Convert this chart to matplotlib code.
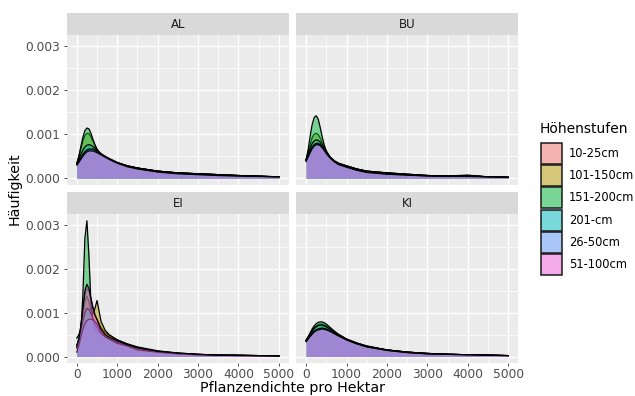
import numpy as np
import matplotlib
matplotlib.use("Agg")
import matplotlib.pyplot as plt
from matplotlib.patches import Rectangle

# ----------------------------
# Data (density values, in units of 1e-3)
# ----------------------------
x_grid = [0, 50, 100, 150, 200, 250, 300, 350, 400, 450, 500, 600, 700, 800,
          1000, 1250, 1500, 2000, 2500, 3000, 3500, 4000, 4500, 5000]

groups = ["10-25cm", "101-150cm", "151-200cm", "201-cm", "26-50cm", "51-100cm"]
colors = ["#F8766D", "#B79F00", "#00BA38", "#00BFC4", "#619CFF", "#F564E3"]
facets = ["AL", "BU", "EI", "KI"]

al_dens = [
    [0.32, 0.40, 0.48, 0.56, 0.62, 0.66, 0.68, 0.68, 0.67, 0.65, 0.62, 0.56, 0.50, 0.45, 0.36, 0.28, 0.23, 0.16, 0.12, 0.10, 0.08, 0.06, 0.045, 0.03],
    [0.33, 0.48, 0.66, 0.84, 0.97, 1.02, 1.01, 0.94, 0.84, 0.74, 0.65, 0.54, 0.47, 0.42, 0.35, 0.28, 0.23, 0.16, 0.12, 0.10, 0.08, 0.06, 0.045, 0.03],
    [0.33, 0.50, 0.72, 0.93, 1.08, 1.14, 1.12, 1.02, 0.88, 0.76, 0.66, 0.54, 0.47, 0.42, 0.35, 0.28, 0.23, 0.16, 0.12, 0.10, 0.08, 0.06, 0.045, 0.03],
    [0.33, 0.43, 0.54, 0.64, 0.71, 0.75, 0.76, 0.75, 0.72, 0.68, 0.63, 0.55, 0.48, 0.43, 0.35, 0.28, 0.23, 0.16, 0.12, 0.10, 0.08, 0.06, 0.045, 0.03],
    [0.31, 0.38, 0.46, 0.54, 0.60, 0.64, 0.66, 0.66, 0.66, 0.64, 0.61, 0.55, 0.49, 0.44, 0.35, 0.27, 0.22, 0.15, 0.11, 0.09, 0.07, 0.05, 0.04, 0.03],
    [0.30, 0.36, 0.43, 0.50, 0.56, 0.60, 0.62, 0.62, 0.62, 0.60, 0.58, 0.53, 0.48, 0.43, 0.34, 0.26, 0.21, 0.14, 0.10, 0.08, 0.06, 0.05, 0.04, 0.03],
]
bu_dens = [
    [0.40, 0.50, 0.62, 0.72, 0.78, 0.80, 0.80, 0.77, 0.72, 0.65, 0.58, 0.47, 0.39, 0.33, 0.27, 0.20, 0.15, 0.11, 0.08, 0.06, 0.05, 0.05, 0.03, 0.02],
    [0.42, 0.58, 0.76, 0.92, 1.00, 1.02, 0.99, 0.91, 0.80, 0.70, 0.61, 0.47, 0.39, 0.34, 0.28, 0.21, 0.16, 0.12, 0.09, 0.06, 0.05, 0.06, 0.03, 0.02],
    [0.42, 0.65, 0.95, 1.22, 1.38, 1.42, 1.34, 1.15, 0.93, 0.75, 0.62, 0.47, 0.39, 0.34, 0.28, 0.21, 0.16, 0.12, 0.09, 0.06, 0.05, 0.07, 0.03, 0.02],
    [0.42, 0.55, 0.68, 0.79, 0.85, 0.87, 0.86, 0.82, 0.75, 0.67, 0.59, 0.47, 0.39, 0.34, 0.28, 0.21, 0.16, 0.12, 0.09, 0.06, 0.05, 0.06, 0.03, 0.02],
    [0.40, 0.50, 0.61, 0.70, 0.76, 0.79, 0.79, 0.76, 0.71, 0.64, 0.57, 0.46, 0.38, 0.32, 0.26, 0.19, 0.14, 0.10, 0.07, 0.05, 0.04, 0.05, 0.03, 0.02],
    [0.38, 0.48, 0.58, 0.67, 0.73, 0.76, 0.76, 0.74, 0.69, 0.63, 0.56, 0.45, 0.37, 0.31, 0.25, 0.18, 0.13, 0.09, 0.07, 0.05, 0.04, 0.04, 0.03, 0.02],
]
ei_dens = [
    [0.25, 0.40, 0.68, 1.05, 1.40, 1.55, 1.50, 1.32, 1.12, 0.96, 0.86, 0.66, 0.55, 0.48, 0.38, 0.29, 0.22, 0.13, 0.08, 0.05, 0.03, 0.03, 0.02, 0.01],
    [0.20, 0.35, 0.60, 0.95, 1.25, 1.38, 1.25, 1.05, 0.98, 1.10, 1.28, 0.80, 0.60, 0.50, 0.38, 0.28, 0.20, 0.12, 0.07, 0.05, 0.03, 0.03, 0.02, 0.01],
    [0.20, 0.30, 0.55, 1.40, 2.70, 3.10, 2.30, 1.20, 0.80, 0.62, 0.58, 0.52, 0.46, 0.40, 0.33, 0.24, 0.18, 0.11, 0.07, 0.04, 0.03, 0.02, 0.01, 0.01],
    [0.42, 0.50, 0.62, 0.80, 1.00, 1.10, 1.08, 0.98, 0.86, 0.74, 0.65, 0.52, 0.45, 0.40, 0.33, 0.25, 0.19, 0.11, 0.07, 0.04, 0.03, 0.02, 0.02, 0.01],
    [0.10, 0.25, 0.45, 0.62, 0.75, 0.82, 0.85, 0.85, 0.84, 0.80, 0.74, 0.55, 0.45, 0.40, 0.30, 0.24, 0.15, 0.10, 0.06, 0.04, 0.03, 0.02, 0.01, 0.01],
    [0.25, 0.40, 0.70, 1.10, 1.50, 1.65, 1.55, 1.32, 1.10, 0.94, 0.84, 0.62, 0.50, 0.44, 0.36, 0.27, 0.20, 0.12, 0.08, 0.05, 0.03, 0.03, 0.02, 0.01],
]
ki_dens = [
    [0.36, 0.43, 0.50, 0.57, 0.63, 0.67, 0.69, 0.70, 0.70, 0.69, 0.67, 0.61, 0.55, 0.49, 0.39, 0.30, 0.23, 0.15, 0.10, 0.07, 0.05, 0.04, 0.03, 0.02],
    [0.37, 0.44, 0.52, 0.60, 0.66, 0.70, 0.73, 0.74, 0.74, 0.72, 0.70, 0.63, 0.56, 0.50, 0.40, 0.31, 0.24, 0.15, 0.10, 0.07, 0.05, 0.04, 0.03, 0.02],
    [0.37, 0.45, 0.54, 0.63, 0.70, 0.75, 0.78, 0.79, 0.79, 0.77, 0.74, 0.66, 0.58, 0.51, 0.40, 0.31, 0.24, 0.15, 0.10, 0.07, 0.05, 0.04, 0.03, 0.02],
    [0.37, 0.44, 0.51, 0.58, 0.64, 0.68, 0.71, 0.72, 0.72, 0.70, 0.68, 0.62, 0.55, 0.49, 0.39, 0.30, 0.23, 0.15, 0.10, 0.07, 0.05, 0.04, 0.03, 0.02],
    [0.35, 0.41, 0.47, 0.53, 0.58, 0.61, 0.63, 0.64, 0.65, 0.64, 0.63, 0.58, 0.53, 0.48, 0.38, 0.29, 0.22, 0.14, 0.09, 0.06, 0.05, 0.04, 0.03, 0.02],
    [0.34, 0.40, 0.46, 0.51, 0.56, 0.59, 0.61, 0.62, 0.63, 0.62, 0.61, 0.57, 0.52, 0.47, 0.38, 0.29, 0.22, 0.14, 0.09, 0.06, 0.05, 0.04, 0.03, 0.02],
]
facet_dens = [al_dens, bu_dens, ei_dens, ki_dens]

x_ticks = [0, 1000, 2000, 3000, 4000, 5000]
y_ticks = [0.0, 0.001, 0.002, 0.003]
y_labels = ["0.000", "0.001", "0.002", "0.003"]

# ----------------------------
# Layout (pixel boxes from the 635x396 reference)
# ----------------------------
W, H = 635, 396
fig = plt.figure(figsize=(W / 100, H / 100), dpi=100)

col_x = [(66.7, 289.0), (296.0, 518.3)]
row_y = [(13.3, 35.0, 185.0), (192.3, 214.0, 363.3)]  # strip top, panel top, panel bottom

def box(x0, x1, ytop, ybot):
    return [x0 / W, 1 - ybot / H, (x1 - x0) / W, (ybot - ytop) / H]

ALPHA = 0.5
x_arr = np.array(x_grid)

for i, name in enumerate(facets):
    r, c = divmod(i, 2)
    x0, x1 = col_x[c]
    st, pt, pb = row_y[r]

    ax = fig.add_axes(box(x0, x1, pt, pb))
    ax.set_facecolor("#EBEBEB")
    for sp in ax.spines.values():
        sp.set_visible(False)

    for g, (vals, col) in enumerate(zip(facet_dens[i], colors)):
        y = np.array(vals) / 1000.0
        ax.fill_between(x_arr, 0, y, color=col, alpha=ALPHA, linewidth=0, zorder=2 + 2 * g)
        ax.plot(x_arr, y, color="black", linewidth=0.9, zorder=3 + 2 * g)

    ax.set_xlim(-250, 5250)
    ax.set_ylim(-0.000155, 0.003255)
    ax.set_xticks(x_ticks)
    ax.set_xticks([500, 1500, 2500, 3500, 4500], minor=True)
    ax.set_yticks(y_ticks)
    ax.set_yticks([0.0005, 0.0015, 0.0025], minor=True)
    ax.grid(which="major", color="white", linewidth=1.0, zorder=0)
    ax.grid(which="minor", color="white", linewidth=0.5, zorder=0)
    ax.set_axisbelow(True)

    ax.tick_params(which="minor", length=0)
    ax.tick_params(which="major", length=2.5, width=0.6, color="#333333",
                   labelsize=8.8, labelcolor="#4D4D4D", pad=2.5)
    if r == 1:
        ax.set_xticklabels([str(t) for t in x_ticks])
        ax.tick_params(axis="x", pad=0.8)
    else:
        ax.tick_params(axis="x", length=0, labelbottom=False)
    if c == 0:
        ax.set_yticklabels(y_labels)
    else:
        ax.tick_params(axis="y", length=0, labelleft=False)

    # facet strip
    sax = fig.add_axes(box(x0, x1, st, pt))
    sax.set_facecolor("#D9D9D9")
    sax.set_xticks([])
    sax.set_yticks([])
    for sp in sax.spines.values():
        sp.set_visible(False)
    sax.text(0.5, 0.5, name, ha="center", va="center", fontsize=8.5,
             color="#1A1A1A", transform=sax.transAxes)

# axis titles
fig.text(292.5 / W, 1 - 392 / H, "Pflanzendichte pro Hektar", ha="center", va="baseline",
         fontsize=10.3, color="black")
fig.text(15 / W, 1 - 189 / H, "Häufigkeit", ha="center", va="center",
         rotation=90, fontsize=10.3, color="black")

# legend
fig.text(540 / W, 1 - 129 / H, "Höhenstufen", ha="left", va="center", fontsize=10)
key_w, key_h, key_gap = 20.5, 21.0, 22.3
for k, (lab, col) in enumerate(zip(groups, colors)):
    cy = 153.3 + k * key_gap
    kx, ky = 541 / W, 1 - (cy + key_h / 2) / H
    fig.patches.append(Rectangle((kx, ky), key_w / W, key_h / H, transform=fig.transFigure,
                                 facecolor="#F2F2F2", edgecolor="none"))
    fig.patches.append(Rectangle((kx, ky), key_w / W, key_h / H, transform=fig.transFigure,
                                 facecolor=col, alpha=ALPHA, edgecolor="none"))
    fig.patches.append(Rectangle((kx, ky), key_w / W, key_h / H, transform=fig.transFigure,
                                 facecolor="none", edgecolor="#1A1A1A", linewidth=1.1))
    fig.text(569 / W, 1 - cy / H, lab, ha="left", va="center", fontsize=8.3, color="black")

fig.savefig("out.png", dpi=100, facecolor="white")
